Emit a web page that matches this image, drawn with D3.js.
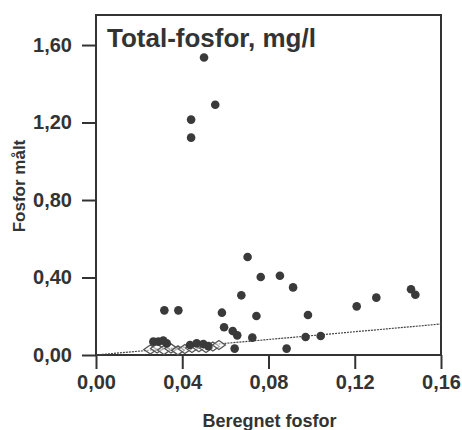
<!DOCTYPE html>
<html>
<head>
<meta charset="utf-8">
<script src="https://cdn.jsdelivr.net/npm/d3@7"></script>
<style>
  body { margin: 0; background: #fff; }
  text { font-family: "Liberation Sans", Arial, sans-serif; font-weight: bold; fill: #333; }
</style>
</head>
<body>
<div id="chart"></div>
<script>
// measured points (filled circles)
const measX = [0.0501, 0.0553, 0.0441, 0.0441, 0.0703, 0.0764, 0.0853, 0.0914, 0.0674, 0.130,
  0.1461, 0.1481, 0.1209, 0.0317, 0.0382, 0.0584, 0.0744, 0.0983, 0.0594, 0.0634,
  0.0655, 0.0725, 0.0972, 0.1042, 0.0643, 0.0884,
  0.0266, 0.0289, 0.0312, 0.0328, 0.0436, 0.0467, 0.0498, 0.0521];
const measY = [1.536, 1.292, 1.215, 1.122, 0.506, 0.403, 0.409, 0.349, 0.308, 0.296,
  0.339, 0.311, 0.251, 0.2305, 0.2305, 0.2185, 0.2013, 0.2065, 0.143, 0.124,
  0.1015, 0.0895, 0.093, 0.098, 0.033, 0.033,
  0.069, 0.069, 0.074, 0.060, 0.052, 0.060, 0.057, 0.046];

// open diamonds
const diaX = [0.0252, 0.0283, 0.0315, 0.0348, 0.0380, 0.0412, 0.0445, 0.0477, 0.0510, 0.0542, 0.0570];
const diaY = [0.028, 0.034, 0.026, 0.034, 0.024, 0.031, 0.036, 0.040, 0.036, 0.044, 0.052];

const xTicks = [0, 0.04, 0.08, 0.12, 0.16];
const yTicks = [0, 0.4, 0.8, 1.2, 1.6];
const lineX = [0, 0.16];

const width = 462, height = 430;
const mLeft = 96, mRight = 441, mTop = 15, mBottom = 355;

const svg = d3.select("#chart").append("svg")
  .attr("width", width).attr("height", height);

const x = d3.scaleLinear().domain([0, 0.16]).range([mLeft, mRight]);
const y = d3.scaleLinear().domain([0, 1.755]).range([mBottom, mTop]);

const fmt = d => d3.format(".2f")(d).replace(".", ",");

// frame
svg.append("rect")
  .attr("x", mLeft).attr("y", mTop)
  .attr("width", mRight - mLeft).attr("height", mBottom - mTop)
  .attr("fill", "none").attr("stroke", "#333").attr("stroke-width", 2);

// axes
const xAxis = svg.append("g")
  .attr("transform", `translate(0,${mBottom})`)
  .call(d3.axisBottom(x).tickValues(xTicks).tickSize(14).tickPadding(6).tickFormat(fmt));
const yAxis = svg.append("g")
  .attr("transform", `translate(${mLeft},0)`)
  .call(d3.axisLeft(y).tickValues(yTicks).tickSize(14).tickPadding(10).tickFormat(fmt));

[xAxis, yAxis].forEach(a => {
  a.select(".domain").remove();
  a.selectAll(".tick line").attr("stroke", "#333").attr("stroke-width", 2);
  a.selectAll(".tick text").style("font-size", "20px").attr("fill", "#333")
    .style("font-family", "'Liberation Sans', Arial, sans-serif").style("font-weight", "bold");
});

// 1:1 line
svg.append("line")
  .attr("x1", x(lineX[0])).attr("y1", y(lineX[0]))
  .attr("x2", x(lineX[1])).attr("y2", y(lineX[1]))
  .attr("stroke", "#444").attr("stroke-width", 1.2)
  .attr("stroke-dasharray", "2,1");

// diamonds (wide, open)
svg.selectAll(".dia")
  .data(d3.zip(diaX, diaY))
  .join("path")
  .attr("class", "dia")
  .attr("d", "M-6.5,0L0,-4.5L6.5,0L0,4.5Z")
  .attr("transform", d => `translate(${x(d[0])},${y(d[1])})`)
  .attr("fill", "#fff").attr("fill-opacity", 0.5)
  .attr("stroke", "#555").attr("stroke-width", 1.3);

// circles
svg.selectAll(".pt")
  .data(d3.zip(measX, measY))
  .join("circle")
  .attr("class", "pt")
  .attr("cx", d => x(d[0])).attr("cy", d => y(d[1]))
  .attr("r", 4.3)
  .attr("fill", "#3a3a3a");

// title
svg.append("text")
  .attr("x", 107).attr("y", 47)
  .style("font-size", "26px")
  .text("Total-fosfor, mg/l");

// axis titles
svg.append("text")
  .attr("x", (mLeft + mRight) / 2 + 1).attr("y", 427)
  .attr("text-anchor", "middle")
  .style("font-size", "18px")
  .text("Beregnet fosfor");

svg.append("text")
  .attr("transform", "translate(25,186) rotate(-90)")
  .attr("text-anchor", "middle")
  .style("font-size", "17px")
  .text("Fosfor målt");
</script>
</body>
</html>
